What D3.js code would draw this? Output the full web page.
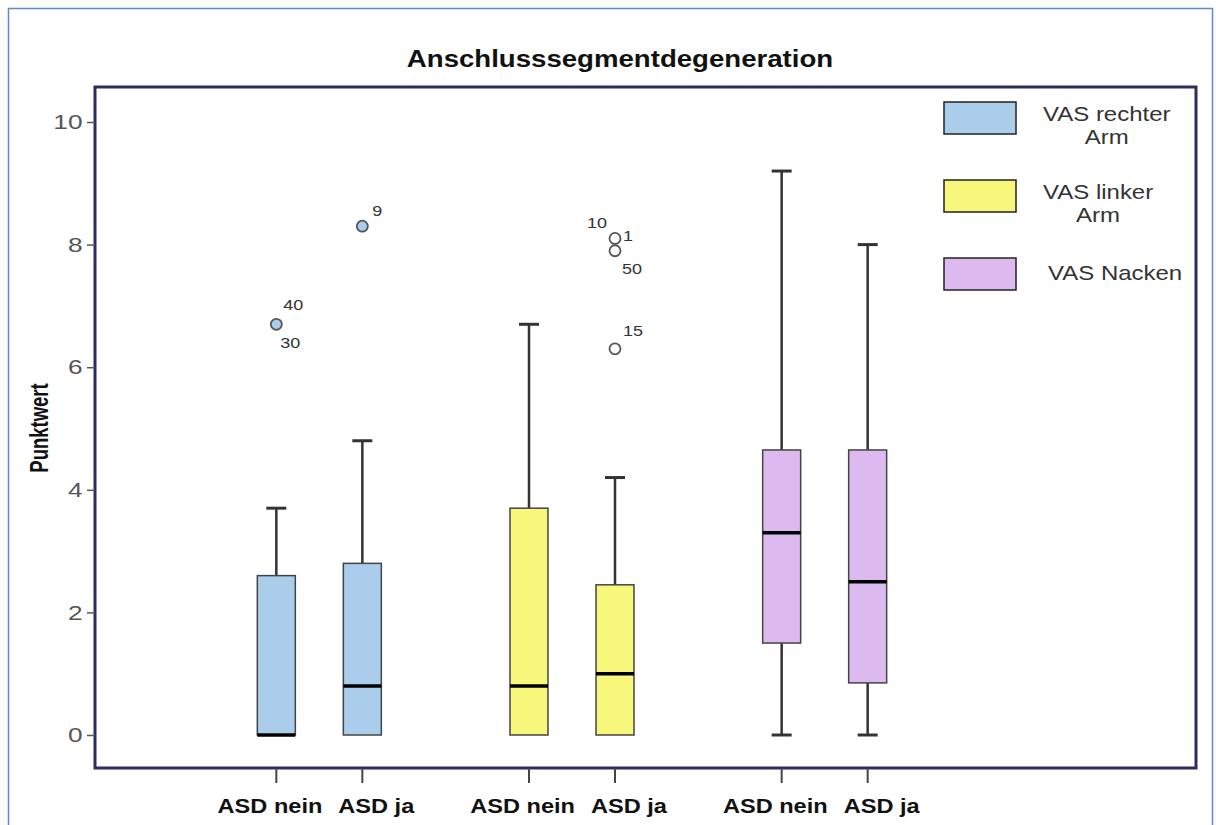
<!DOCTYPE html>
<html>
<head>
<meta charset="utf-8">
<script src="https://cdn.jsdelivr.net/npm/d3@7"></script>
<style>
  body { margin: 0; background: #fff; }
  text { font-family: "Liberation Sans", Arial, sans-serif; }
</style>
</head>
<body>
<div class="chart"></div>
<script>
// box plot data
var groups = ["VAS rechter Arm", "VAS linker Arm", "VAS Nacken"];
var subgroups = ["ASD nein", "ASD ja"];
var whiskerLow  = [[0, 0], [0, 0], [0, 0]];
var q1          = [[0, 0], [0, 0], [1.5, 0.85]];
var median      = [[0, 0.8], [0.8, 1.0], [3.3, 2.5]];
var q3          = [[2.6, 2.8], [3.7, 2.45], [4.65, 4.65]];
var whiskerHigh = [[3.7, 4.8], [6.7, 4.2], [9.2, 8.0]];
var yTicks = [0, 2, 4, 6, 8, 10];

// outliers: group index, subgroup index, value, case numbers
var outliers = [
  { group: 0, sub: 0, value: 6.7, cases: ["40", "30"] },
  { group: 0, sub: 1, value: 8.3, cases: ["9"] },
  { group: 1, sub: 1, value: 8.1, cases: ["1", "10"] },
  { group: 1, sub: 1, value: 7.9, cases: ["50"] },
  { group: 1, sub: 1, value: 6.3, cases: ["15"] }
];
var legendLines = [["VAS rechter", "Arm"], ["VAS linker", "Arm"], ["VAS Nacken"]];

// styling
var fills = ["#a9cdea", "#f7f77b", "#dcb9ee"];
var outlierFills = ["#a9cdea", "#ffffff", "#ffffff"];
var caseOffset = { "40": [7, -14], "30": [4, 24], "9": [10, -10], "1": [8, 3],
                   "10": [-28, -10], "50": [7, 23], "15": [8, -13] };
var sx = 1.15; // the picture's text is a bit wide

var svgWidth = 1216, svgHeight = 825;
var frame = { left: 95, top: 87, right: 1196, bottom: 768 };

var svg = d3.select(".chart")
  .append("svg")
  .attr("width", svgWidth)
  .attr("height", svgHeight);

// outer light blue border
svg.append("rect")
  .attr("x", 8.5).attr("y", 8.5)
  .attr("width", 1204).attr("height", 840)
  .attr("fill", "none")
  .attr("stroke", "#5a8ad0")
  .attr("stroke-width", 1.5);

function addText(x, y, str, size, weight, color, anchor, stretch) {
  return svg.append("text")
    .attr("transform", "translate(" + x + "," + y + ") scale(" + (stretch || sx) + ",1)")
    .attr("text-anchor", anchor || "middle")
    .attr("font-size", size + "px")
    .attr("font-weight", weight)
    .attr("fill", color)
    .text(str);
}

var y = d3.scaleLinear().domain([0, 10]).range([735, 122]);

var xGroup = d3.scaleBand()
  .domain(groups)
  .range([193, 951]);

var xSub = d3.scalePoint()
  .domain(subgroups)
  .range([xGroup.bandwidth() / 2 - 43, xGroup.bandwidth() / 2 + 43]);

function cx(g, s) {
  return xGroup(groups[g]) + xSub(subgroups[s]);
}

var boxW = 38, capW = 20;

// frame
svg.append("rect")
  .attr("x", frame.left).attr("y", frame.top)
  .attr("width", frame.right - frame.left)
  .attr("height", frame.bottom - frame.top)
  .attr("fill", "none")
  .attr("stroke", "#2c2c5e")
  .attr("stroke-width", 3);

// y axis
var leftAxis = d3.axisLeft(y).tickValues(yTicks).tickSize(8).tickPadding(4);
var yAxisG = svg.append("g")
  .attr("transform", "translate(" + frame.left + ",0)")
  .call(leftAxis);
yAxisG.select(".domain").remove();
yAxisG.selectAll(".tick line").attr("stroke", "#555").attr("stroke-width", 1.5);
yAxisG.selectAll(".tick text")
  .attr("font-size", "21px")
  .attr("fill", "#555")
  .attr("font-family", "Liberation Sans, Arial, sans-serif")
  .attr("x", -10)
  .attr("transform", "scale(1.25,1)");

// x ticks + labels
var boxes = [];
groups.forEach(function(g, gi) {
  subgroups.forEach(function(s, si) {
    boxes.push({ g: gi, s: si });
  });
});

boxes.forEach(function(b) {
  var x0 = cx(b.g, b.s);
  svg.append("line")
    .attr("x1", x0).attr("x2", x0)
    .attr("y1", frame.bottom).attr("y2", frame.bottom + 15)
    .attr("stroke", "#444").attr("stroke-width", 2);
  if (b.s === 0) addText(x0 + 46, 813, subgroups[b.s], 20.5, "bold", "#111", "end");
  else addText(x0 - 24, 813, subgroups[b.s], 20.5, "bold", "#111", "start");
});

// whiskers and boxes
var bg = svg.append("g");
boxes.forEach(function(b) {
  var x0 = cx(b.g, b.s);
  var hi = whiskerHigh[b.g][b.s], lo = whiskerLow[b.g][b.s];
  bg.append("line")
    .attr("x1", x0).attr("x2", x0)
    .attr("y1", y(hi)).attr("y2", y(q3[b.g][b.s]))
    .attr("stroke", "#333").attr("stroke-width", 2.5);
  bg.append("line")
    .attr("x1", x0).attr("x2", x0)
    .attr("y1", y(lo)).attr("y2", y(q1[b.g][b.s]))
    .attr("stroke", "#333").attr("stroke-width", 2.5);
  [hi, lo].forEach(function(v) {
    if (v === q1[b.g][b.s] || v === q3[b.g][b.s]) return;
    bg.append("line")
      .attr("x1", x0 - capW / 2).attr("x2", x0 + capW / 2)
      .attr("y1", y(v)).attr("y2", y(v))
      .attr("stroke", "#333").attr("stroke-width", 3);
  });
  bg.append("rect")
    .attr("x", x0 - boxW / 2)
    .attr("y", y(q3[b.g][b.s]))
    .attr("width", boxW)
    .attr("height", y(q1[b.g][b.s]) - y(q3[b.g][b.s]))
    .attr("fill", fills[b.g])
    .attr("stroke", "#444")
    .attr("stroke-width", 1.5);
  bg.append("line")
    .attr("x1", x0 - boxW / 2).attr("x2", x0 + boxW / 2)
    .attr("y1", y(median[b.g][b.s])).attr("y2", y(median[b.g][b.s]))
    .attr("stroke", "#000").attr("stroke-width", 3.5);
});

// outliers
outliers.forEach(function(o) {
  var x0 = cx(o.group, o.sub), y0 = y(o.value);
  svg.append("circle")
    .attr("cx", x0).attr("cy", y0).attr("r", 5.5)
    .attr("fill", outlierFills[o.group])
    .attr("stroke", "#555").attr("stroke-width", 1.8);
  o.cases.forEach(function(c) {
    addText(x0 + caseOffset[c][0], y0 + caseOffset[c][1], c, 15, "normal", "#333", "start", 1.2);
  });
});

// title and axis title
addText(620, 67, "Anschlusssegmentdegeneration", 24, "bold", "#111");
svg.append("text")
  .attr("transform", "translate(48,428) rotate(-90) scale(0.84,1.2)")
  .attr("text-anchor", "middle")
  .attr("font-size", "22px")
  .attr("font-weight", "bold")
  .attr("fill", "#111")
  .text("Punktwert");

// legend
var legendY = [102, 180, 258];
groups.forEach(function(g, i) {
  svg.append("rect")
    .attr("x", 944).attr("y", legendY[i])
    .attr("width", 72).attr("height", 32)
    .attr("fill", fills[i])
    .attr("stroke", "#222").attr("stroke-width", 1.5);
  var lines = legendLines[i];
  if (lines.length === 1) {
    addText(1048, legendY[i] + 22, lines[0], 20, "normal", "#333", "start", 1.2);
  } else {
    var t = addText(1043, legendY[i] + 19, lines[0], 20, "normal", "#333", "start", 1.2);
    var w = t.node().getComputedTextLength() * 1.2;
    addText(1043 + w / 2, legendY[i] + 42, lines[1], 20, "normal", "#333", "middle", 1.2);
  }
});
</script>
</body>
</html>
